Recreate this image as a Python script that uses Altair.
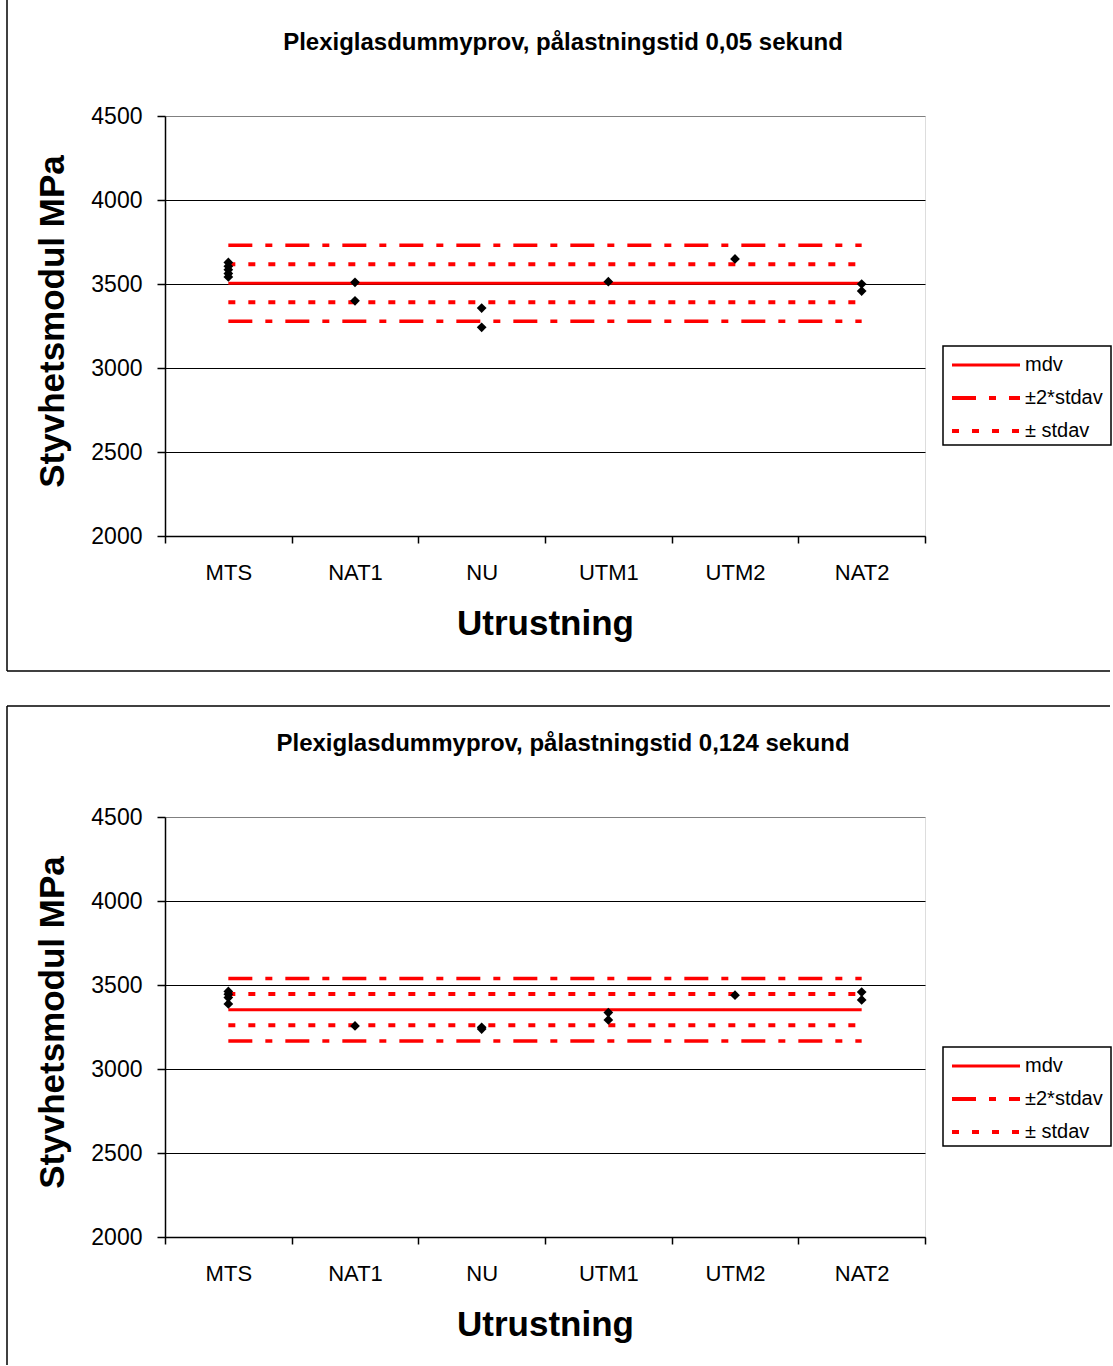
import json
import altair as alt
import pandas as pd

# ---------------- data ----------------
categories = ["MTS", "NAT1", "NU", "UTM1", "UTM2", "NAT2"]
series_names = ["mdv", "±2*stdav", "± stdav"]
series_dash = [[1, 0], [24, 13, 7, 13], [7, 13]]
series_width = [3, 4, 4]

titles = [
    "Plexiglasdummyprov, pålastningstid 0,05 sekund",
    "Plexiglasdummyprov, pålastningstid 0,124 sekund",
]
x_title = "Utrustning"
y_title = "Styvhetsmodul MPa"
y_ticks = [2000, 2500, 3000, 3500, 4000, 4500]

# level lines (series name for each level)
line_series = ["mdv", "±2*stdav", "±2*stdav", "± stdav", "± stdav"]

# panel 1: 0,05 s
p1_cat = ["MTS"] * 5 + ["NAT1"] * 2 + ["NU"] * 2 + ["UTM1"] + ["UTM2"] + ["NAT2"] * 2
p1_val = [3628, 3605, 3585, 3562, 3542, 3510, 3400, 3357, 3242, 3514, 3649, 3500, 3458]
p1_lines = [3505, 3731, 3279, 3618, 3392]

# panel 2: 0,124 s
p2_cat = ["MTS"] * 4 + ["NAT1"] + ["NU"] * 2 + ["UTM1"] * 2 + ["UTM2"] + ["NAT2"] * 2
p2_val = [3462, 3445, 3425, 3387, 3256, 3248, 3238, 3336, 3292, 3439, 3458, 3411]
p2_lines = [3353, 3539, 3167, 3446, 3260]

FONT = "Liberation Sans"
W, H = 760, 420


def panel(title, cats, vals, line_vals, frame_top, frame_bottom, bottom_line):
    n = len(categories)
    pts = pd.DataFrame({"cat": cats, "val": vals})
    pts["pos"] = [categories.index(c) + 0.5 for c in cats]
    lines = pd.DataFrame({"series": line_series, "val": line_vals})
    lines["x0"] = 0.5
    lines["x1"] = n - 0.5

    xscale = alt.Scale(domain=[0, n], nice=False, zero=False)
    yscale = alt.Scale(domain=[2000, 4500], nice=False, zero=False)
    label_expr = "datum.value < %d ? %s[datum.value] : ''" % (n, json.dumps(categories))
    xaxis = alt.Axis(
        values=list(range(n + 1)), labelExpr=label_expr, labelOffset=W / n / 2,
        labelFlush=False, labelAlign="center", labelFontSize=22, labelFont=FONT,
        labelColor="black", labelPadding=19, tickSize=7, tickColor="black",
        tickWidth=1.5, domainColor="black", domainWidth=1.5, grid=False,
        title=x_title, titleFont=FONT, titleFontSize=35, titleFontWeight="bold",
        titleColor="black", titleX=W / 2, titleY=87, titleBaseline="middle",
        titleAlign="center",
    )
    yaxis = alt.Axis(
        values=y_ticks, format="d", labelFontSize=23, labelFont=FONT, labelColor="black",
        labelPadding=15, tickSize=8, tickColor="black", tickWidth=1.5,
        domainColor="black", domainWidth=1.5, grid=True,
        gridColor={"condition": {"test": "datum.value >= 4500", "value": "#808080"},
                   "value": "black"},
        gridWidth=1, title=y_title, titleFont=FONT, titleFontSize=35,
        titleFontWeight="bold", titleColor="black", titleAngle=270,
        titleX=-113, titleY=205, titleAlign="center", titleBaseline="middle",
    )

    one = pd.DataFrame({"k": [0]})
    fl, fr = -158, 945
    frame = [
        alt.Chart(one).mark_rule(color="black", strokeWidth=1.5).encode(
            x=alt.value(fl), x2=alt.value(fr), y=alt.value(frame_top)),
        alt.Chart(one).mark_rule(color="black", strokeWidth=1.5).encode(
            x=alt.value(fl), y=alt.value(frame_top), y2=alt.value(frame_bottom)),
    ]
    if bottom_line:
        frame.append(
            alt.Chart(one).mark_rule(color="black", strokeWidth=1.5).encode(
                x=alt.value(fl), x2=alt.value(fr), y=alt.value(frame_bottom)))

    rules = alt.Chart(lines).mark_rule(strokeCap="butt").encode(
        x=alt.X("x0:Q", scale=xscale, axis=xaxis),
        x2="x1:Q",
        y=alt.Y("val:Q", scale=yscale, axis=yaxis),
        color=alt.Color("series:N", scale=alt.Scale(domain=series_names,
                        range=["#ff0000"] * 3), legend=None),
        strokeDash=alt.StrokeDash("series:N", scale=alt.Scale(domain=series_names,
                                  range=series_dash), legend=None),
        strokeWidth=alt.StrokeWidth("series:N", scale=alt.Scale(domain=series_names,
                                    range=series_width), legend=None),
    )

    points = alt.Chart(pts).mark_point(
        shape="diamond", filled=True, color="black", size=95, opacity=1
    ).encode(
        x=alt.X("pos:Q", scale=xscale, axis=xaxis),
        y=alt.Y("val:Q", scale=yscale, axis=yaxis),
    )

    title_layer = alt.Chart(pd.DataFrame({"t": [title]})).mark_text(
        font=FONT, fontSize=24, fontWeight="bold", align="center",
        baseline="middle", color="black"
    ).encode(text="t:N", x=alt.value(398), y=alt.value(-73))

    # manual legend
    lx0, lx1, ly0, ly1 = 778, 946, 230, 329
    legend_layers = [
        alt.Chart(one).mark_rect(fill="white", stroke="black", strokeWidth=1.5).encode(
            x=alt.value(lx0), x2=alt.value(lx1), y=alt.value(ly0), y2=alt.value(ly1))
    ]
    row_y = [249, 282, 315]
    for name, dash, sw, ry in zip(series_names, series_dash, series_width, row_y):
        legend_layers.append(
            alt.Chart(one).mark_rule(color="#ff0000", strokeDash=dash, strokeWidth=sw,
                                     strokeCap="butt").encode(
                x=alt.value(787), x2=alt.value(855), y=alt.value(ry)))
        legend_layers.append(
            alt.Chart(pd.DataFrame({"t": [name]})).mark_text(
                font=FONT, fontSize=20, align="left", baseline="middle", color="black"
            ).encode(text="t:N", x=alt.value(860), y=alt.value(ry)))

    return alt.layer(*frame, rules, points, title_layer, *legend_layers).properties(
        width=W, height=H)


top = panel(titles[0], p1_cat, p1_val, p1_lines, -117, 555, True)
bottom = panel(titles[1], p2_cat, p2_val, p2_lines, -111, 548, False)

chart = alt.vconcat(top, bottom, spacing=31).properties(
    padding={"left": 5, "top": -3, "right": 0, "bottom": 0}
).configure_view(stroke="#808080", strokeWidth=2).configure(font=FONT)

chart.save("out.html", embed_options={"renderer": "svg", "actions": False})
